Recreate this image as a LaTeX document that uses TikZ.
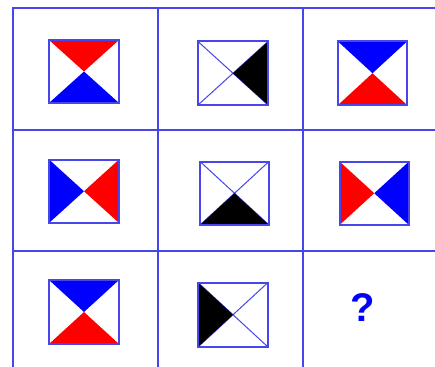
\documentclass[tikz,border=0pt]{standalone}
\usepackage{fontspec}
\setmainfont{Liberation Sans}
\definecolor{gridblue}{RGB}{70,70,235}
\definecolor{fillblue}{RGB}{0,0,255}
\definecolor{fillred}{RGB}{255,0,0}
\tikzset{
  gridline/.style={draw=gridblue, line width=2pt},
  tileframe/.style={draw=gridblue, line width=2pt},
}
% #1,#2 = top-left, #3,#4 = bottom-right, #5 top, #6 right, #7 bottom, #8 left, #9 diagonal colour
\newcommand\mytile[9]{%
  \coordinate (tl) at (#1,#2);
  \coordinate (tr) at (#3,#2);
  \coordinate (br) at (#3,#4);
  \coordinate (bl) at (#1,#4);
  \coordinate (cc) at ({(#1+#3)/2},{(#2+#4)/2});
  \fill[white] (tl) rectangle (br);
  \path[draw=#9, line width=1pt] (tl) -- (br) (tr) -- (bl);
  \path[fill=#5] (tl) -- (tr) -- (cc) -- cycle;
  \path[fill=#6] (tr) -- (br) -- (cc) -- cycle;
  \path[fill=#7] (br) -- (bl) -- (cc) -- cycle;
  \path[fill=#8] (bl) -- (tl) -- (cc) -- cycle;
  \draw[tileframe] (tl) rectangle (br);
}
\begin{document}
\begin{tikzpicture}[x=1pt,y=-1pt]
\useasboundingbox (0,0) rectangle (435,366);
\fill[white] (0,0) rectangle (435,366);
% grid
\draw[gridline] (13,370) -- (13,8) -- (440,8);
\draw[gridline] (158,8) -- (158,370);
\draw[gridline] (303,8) -- (303,370);
\draw[gridline] (13,129.5) -- (440,129.5);
\draw[gridline] (13,251) -- (440,251);
% row 1
\mytile{49}{40}{119}{103}{fillred}{none}{fillblue}{none}{none}
\mytile{198}{41.5}{268}{105}{none}{black}{none}{none}{gridblue}
\mytile{338}{41.5}{407}{105}{fillblue}{none}{fillred}{none}{none}
% row 2
\mytile{49}{159.5}{119}{223}{none}{fillred}{none}{fillblue}{none}
\mytile{200}{161.5}{269}{225}{none}{none}{black}{none}{gridblue}
\mytile{339.5}{161.5}{409}{225}{none}{fillblue}{none}{fillred}{none}
% row 3
\mytile{49}{280}{119}{344}{fillblue}{none}{fillred}{none}{none}
\mytile{198}{282.5}{268}{347}{none}{none}{none}{black}{gridblue}
\node[text=fillblue, font=\bfseries\fontsize{40}{44}\selectfont, inner sep=0pt] (q) at (362.5,307.5) {?};
\end{tikzpicture}
\end{document}
